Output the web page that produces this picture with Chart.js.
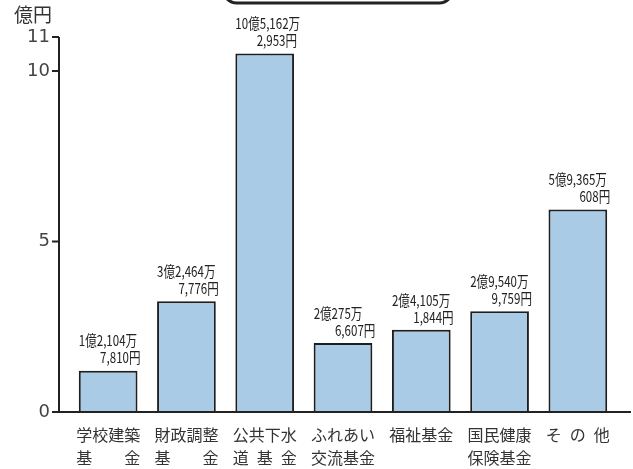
<!DOCTYPE html>
<html>
<head>
<meta charset="utf-8">
<script src="https://cdn.jsdelivr.net/npm/chart.js@4"></script>
<style>
  html, body { margin: 0; padding: 0; background: #fff; }
  #wrap { width: 633px; height: 469px; }
</style>
</head>
<body>
<div id="wrap"><canvas id="fundChart" width="633" height="469"></canvas></div>
<script>
// 基金残高（億円）
const categories = [
  ['学校建築', '基　　金'],
  ['財政調整', '基　　金'],
  ['公共下水', '道\u2002基\u2002金'],
  ['ふれあい', '交流基金'],
  ['福祉基金'],
  ['国民健康', '保険基金'],
  ['そ\u2002の\u2002他']
]
const amounts = [1.2104781, 3.24647776, 10.51622953, 2.02756607, 2.41051844, 2.95409759, 5.93650608]
const labelTop = ['1億2,104万', '3億2,464万', '10億5,162万', '2億275万', '2億4,105万', '2億9,540万', '5億9,365万']
const labelBottom = ['7,810円', '7,776円', '2,953円', '6,607円', '1,844円', '9,759円', '608円']
const yTicks = [0, 5, 10, 11]
const yUnit = '億円'

const ink = '#222'
const jp = "'Noto Sans CJK JP', 'Noto Sans', sans-serif"

// axis lines + ticks, drawn a bit left of the plot like the original
const axisPlugin = {
  id: 'axisLines',
  afterDraw(chart) {
    const ctx = chart.ctx
    const y = chart.scales.y
    const area = chart.chartArea
    const ax = area.left - 10
    ctx.save()
    ctx.strokeStyle = ink
    ctx.lineWidth = 2
    ctx.beginPath()
    ctx.moveTo(ax, y.getPixelForValue(11))
    ctx.lineTo(ax, y.getPixelForValue(0))
    ctx.lineTo(chart.width - 2, y.getPixelForValue(0))
    yTicks.forEach(v => {
      const py = y.getPixelForValue(v)
      ctx.moveTo(ax - 7, py)
      ctx.lineTo(ax, py)
    })
    ctx.stroke()

    // unit
    ctx.fillStyle = '#333'
    ctx.font = '19px ' + jp
    ctx.textAlign = 'left'
    ctx.textBaseline = 'middle'
    ctx.fillText(yUnit, 14, 15)

    // bottom edge of the title box cut off by the scan
    ctx.lineWidth = 3
    ctx.beginPath()
    ctx.roundRect(223, -40, 230, 43, 14)
    ctx.stroke()
    ctx.restore()
  }
}

// amount labels above each bar
const valuePlugin = {
  id: 'barValues',
  afterDatasetsDraw(chart) {
    const ctx = chart.ctx
    const bars = chart.getDatasetMeta(0).data
    ctx.save()
    ctx.fillStyle = ink
    ctx.font = '15px ' + jp
    ctx.textBaseline = 'middle'
    bars.forEach((bar, i) => {
      const left = bar.x - bar.width / 2
      const right = bar.x + bar.width / 2
      ctx.save()
      ctx.translate(left, bar.y - 30)
      ctx.scale(0.77, 1)
      ctx.textAlign = 'left'
      ctx.fillText(labelTop[i], 0, 0)
      ctx.restore()
      ctx.save()
      ctx.translate(right + 3, bar.y - 13)
      ctx.scale(0.77, 1)
      ctx.textAlign = 'right'
      ctx.fillText(labelBottom[i], 0, 0)
      ctx.restore()
    })
    ctx.restore()
  }
}

new Chart(document.getElementById('fundChart'), {
  type: 'bar',
  data: {
    labels: categories,
    datasets: [{
      data: amounts,
      backgroundColor: '#a9cbe6',
      borderColor: '#1e1e1e',
      borderWidth: 2,
      categoryPercentage: 1,
      barPercentage: 0.75
    }]
  },
  options: {
    responsive: false,
    animation: false,
    layout: { padding: { top: 37, right: 16, left: 0, bottom: 0 } },
    plugins: { legend: { display: false }, tooltip: { enabled: false } },
    scales: {
      x: {
        grid: { display: false, drawTicks: false },
        border: { display: false },
        ticks: {
          color: '#333',
          padding: 11,
          font: { size: 16, family: jp, lineHeight: 1.45 },
          maxRotation: 0,
          autoSkip: false
        },
        afterFit(scale) { scale.height = 57 }
      },
      y: {
        min: 0,
        max: 11,
        grid: { display: false, drawTicks: false },
        border: { display: false },
        afterBuildTicks(scale) { scale.ticks = yTicks.map(v => ({ value: v })) },
        ticks: {
          color: '#444',
          padding: 19,
          font: { size: 18, family: "'DejaVu Sans', sans-serif" }
        },
        afterFit(scale) { scale.width = 69 }
      }
    }
  },
  plugins: [axisPlugin, valuePlugin]
})
</script>
</body>
</html>
